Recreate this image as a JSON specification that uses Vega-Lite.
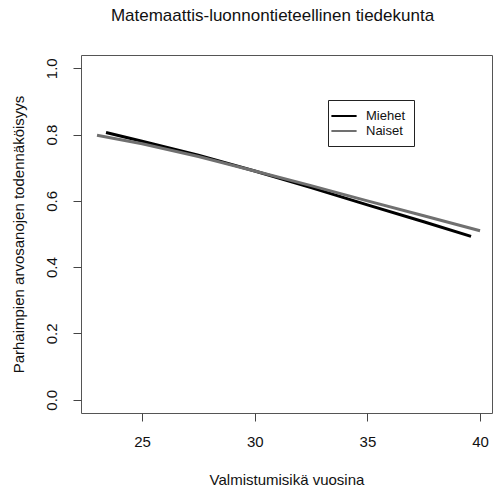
{
  "$schema": "https://vega.github.io/schema/vega-lite/v6.json",
  "width": 411,
  "height": 358,
  "autosize": "none",
  "padding": {"left": 81, "top": 55, "right": 2, "bottom": 79},
  "background": "white",
  "config": {
    "font": "Liberation Sans",
    "view": {"stroke": "#555555", "strokeWidth": 1}
  },
  "title": {
    "text": "Matemaattis-luonnontieteellinen tiedekunta",
    "fontSize": 17,
    "fontWeight": "normal",
    "font": "Liberation Sans",
    "color": "#111111",
    "anchor": "middle",
    "dx": -14,
    "offset": 30
  },
  "data": {
    "values": [
      {"age": 23.4, "p": 0.806, "sex": "Miehet"},
      {"age": 25.0, "p": 0.780, "sex": "Miehet"},
      {"age": 27.5, "p": 0.738, "sex": "Miehet"},
      {"age": 30.0, "p": 0.690, "sex": "Miehet"},
      {"age": 32.5, "p": 0.640, "sex": "Miehet"},
      {"age": 35.0, "p": 0.588, "sex": "Miehet"},
      {"age": 37.5, "p": 0.537, "sex": "Miehet"},
      {"age": 39.6, "p": 0.493, "sex": "Miehet"},
      {"age": 23.0, "p": 0.798, "sex": "Naiset"},
      {"age": 25.0, "p": 0.772, "sex": "Naiset"},
      {"age": 27.5, "p": 0.734, "sex": "Naiset"},
      {"age": 30.0, "p": 0.690, "sex": "Naiset"},
      {"age": 32.5, "p": 0.646, "sex": "Naiset"},
      {"age": 35.0, "p": 0.600, "sex": "Naiset"},
      {"age": 37.5, "p": 0.555, "sex": "Naiset"},
      {"age": 40.0, "p": 0.510, "sex": "Naiset"}
    ]
  },
  "mark": {"type": "line", "strokeWidth": 3, "clip": true},
  "encoding": {
    "x": {
      "field": "age",
      "type": "quantitative",
      "scale": {"domain": [22.29, 40.53], "nice": false, "zero": false},
      "axis": {
        "values": [25, 30, 35, 40],
        "title": "Valmistumisikä vuosina",
        "grid": false,
        "domain": false,
        "tickColor": "#444444",
        "tickSize": 8,
        "labelFontSize": 15,
        "labelColor": "#111111",
        "labelPadding": 13,
        "titleFontSize": 15,
        "titleFontWeight": "normal",
        "titleColor": "#111111",
        "titlePadding": 23
      }
    },
    "y": {
      "field": "p",
      "type": "quantitative",
      "scale": {"domain": [-0.04, 1.04], "nice": false, "zero": false},
      "axis": {
        "values": [0, 0.2, 0.4, 0.6, 0.8, 1.0],
        "format": ".1f",
        "title": "Parhaimpien arvosanojen todennäköisyys",
        "grid": false,
        "domain": false,
        "tickColor": "#444444",
        "tickSize": 8,
        "labelAngle": -90,
        "labelFontSize": 15,
        "labelColor": "#111111",
        "labelPadding": 14,
        "titleFontSize": 15,
        "titleFontWeight": "normal",
        "titleColor": "#111111",
        "titlePadding": 18
      }
    },
    "color": {
      "field": "sex",
      "type": "nominal",
      "scale": {"domain": ["Miehet", "Naiset"], "range": ["#000000", "#707070"]},
      "legend": {
        "title": null,
        "orient": "none",
        "legendX": 247,
        "legendY": 45,
        "direction": "vertical",
        "strokeColor": "#222222",
        "fillColor": "white",
        "padding": 8,
        "symbolType": "M-1.8,0H1.8",
        "symbolSize": 196,
        "symbolStrokeWidth": 2,
        "labelFontSize": 13,
        "labelColor": "#111111",
        "labelOffset": 14,
        "rowPadding": 0
      }
    }
  }
}
